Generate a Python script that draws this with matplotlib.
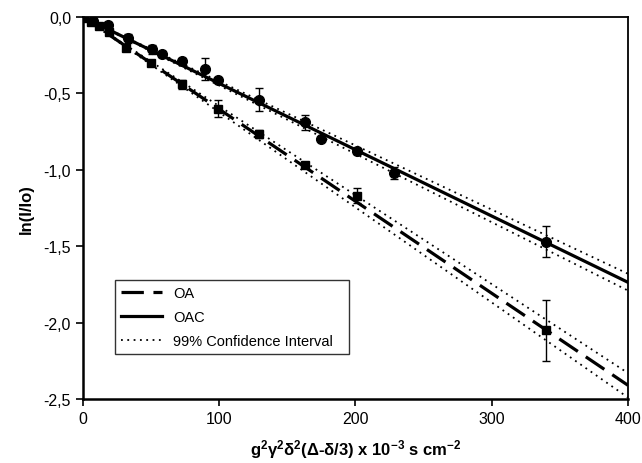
import numpy as np
import matplotlib
matplotlib.use('Agg')
import matplotlib.pyplot as plt

# Fonts: Arial-like sans, bold math for the x label
plt.rcParams['font.family'] = ['Liberation Sans', 'DejaVu Sans']
plt.rcParams['mathtext.fontset'] = 'custom'
plt.rcParams['mathtext.rm'] = 'Liberation Sans:bold'
plt.rcParams['mathtext.bf'] = 'Liberation Sans:bold'
plt.rcParams['mathtext.it'] = 'Liberation Sans:bold'
plt.rcParams['mathtext.default'] = 'bf'

# OAC data (circles)
oac_x = [0, 7.6, 18.6, 33, 51, 58, 73, 89.5, 99, 129, 163, 175, 201, 228.5, 339.6]
oac_y = [0, -0.024, -0.05, -0.14, -0.21, -0.24, -0.29, -0.34, -0.41, -0.54, -0.69, -0.80, -0.875, -1.02, -1.47]
oac_err = [0.03, 0.02, 0.02, 0.03, 0.03, 0.02, 0.02, 0.075, 0.01, 0.075, 0.05, 0.01, 0.02, 0.04, 0.1]

# OA data (squares)
oa_x = [0, 6, 12, 19.3, 32, 50, 73, 99, 129, 163, 201, 339.6]
oa_y = [0, -0.03, -0.06, -0.10, -0.205, -0.30, -0.44, -0.60, -0.765, -0.97, -1.17, -2.05]
oa_err = [0.02, 0.01, 0.01, 0.02, 0.02, 0.02, 0.03, 0.055, 0.025, 0.015, 0.05, 0.2]

# Fit lines and 99% confidence limits (end points)
fit_x = [0, 400]
oa_fit = [0, -2.41]
oa_ci_up = [0, -2.33]
oa_ci_low = [0, -2.49]
oac_fit = [0, -1.736]
oac_ci_up = [0, -1.68]
oac_ci_low = [0, -1.79]

fig = plt.figure(figsize=(6.42, 4.64), dpi=100)
ax = fig.add_axes([0.129, 0.138, 0.849, 0.823])

# Fits
dot = (1, 2.5)
oa_line, = ax.plot(fit_x, oa_fit, color='k', lw=2.3, dashes=(7, 3), label='OA')
oac_line, = ax.plot(fit_x, oac_fit, color='k', lw=2.3, label='OAC')
ci_line, = ax.plot(fit_x, oa_ci_up, color='k', lw=1.3, dashes=dot, label='99% Confidence Interval')
ax.plot(fit_x, oa_ci_low, color='k', lw=1.3, dashes=dot)
ax.plot(fit_x, oac_ci_up, color='k', lw=1.3, dashes=dot)
ax.plot(fit_x, oac_ci_low, color='k', lw=1.3, dashes=dot)

# Data with error bars
ax.errorbar(oa_x, oa_y, yerr=oa_err, fmt='s', color='k', ms=6, capsize=3, elinewidth=1, capthick=1)
ax.errorbar(oac_x, oac_y, yerr=oac_err, fmt='o', color='k', ms=7, capsize=3, elinewidth=1, capthick=1)

ax.set_xlim(0, 400)
ax.set_ylim(-2.5, 0)
ax.set_xticks([0, 100, 200, 300, 400])
ax.set_yticks([0, -0.5, -1.0, -1.5, -2.0, -2.5])
ax.set_yticklabels(['0,0', '-0,5', '-1,0', '-1,5', '-2,0', '-2,5'])
ax.tick_params(direction='out', length=5, width=1.2, labelsize=11.5)
for s in ['left', 'bottom']:
    ax.spines[s].set_linewidth(1.8)
for s in ['top', 'right']:
    ax.spines[s].set_linewidth(1.3)

ax.set_ylabel('ln(I/Io)', fontsize=12, fontweight='bold', labelpad=7)
ax.set_xlabel(r'$g^2\gamma^2\delta^2(\Delta$-$\delta/3)$ x 10$^{-3}$ s cm$^{-2}$',
              fontsize=12, fontweight='bold', labelpad=8)

leg = ax.legend(handles=[oa_line, oac_line, ci_line], loc='lower left',
                bbox_to_anchor=(0.059, 0.118, 0.43, 0.217), mode='expand',
                fontsize=10.5, frameon=True, fancybox=False, borderaxespad=0,
                handlelength=2.8, labelspacing=0.7)
leg.get_frame().set_edgecolor('k')
leg.get_frame().set_linewidth(1)

fig.savefig('out.png', dpi=100)
